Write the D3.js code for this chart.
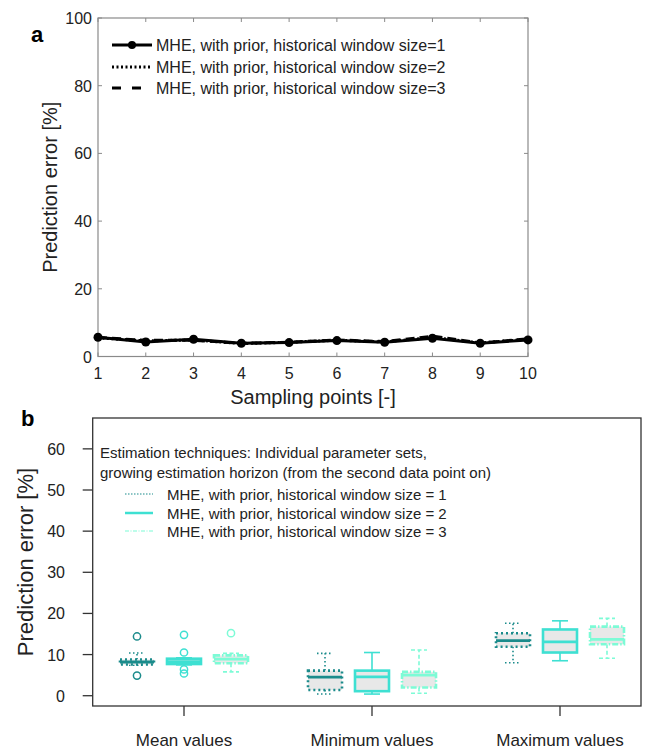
<!DOCTYPE html>
<html>
<head>
<meta charset="utf-8">
<script src="https://cdn.jsdelivr.net/npm/d3@7"></script>
<style>
  html, body { margin: 0; padding: 0; background: #fff; }
  svg { display: block; font-family: Arial, "Liberation Sans", sans-serif; }
</style>
</head>
<body>
<svg id="chart" width="646" height="751"></svg>
<script>
// ---------- Panel a: prediction error per sampling point ----------
const samplingPoints = [1, 2, 3, 4, 5, 6, 7, 8, 9, 10];
const errWindow1 = [5.7, 4.3, 5.1, 3.9, 4.1, 4.7, 4.2, 5.4, 3.9, 4.9];
const errWindow2 = [5.5, 4.6, 4.9, 3.8, 4.2, 4.8, 4.3, 5.6, 4.0, 5.1];
const errWindow3 = [5.6, 4.8, 4.8, 3.9, 4.2, 4.9, 4.4, 6.0, 4.0, 5.2];
const topLegend = [
  "MHE, with prior, historical window size=1",
  "MHE, with prior, historical window size=2",
  "MHE, with prior, historical window size=3"
];
const topYTicks = [0, 20, 40, 60, 80, 100];

// ---------- Panel b: box plots per statistic ----------
const groups = ["Mean values", "Minimum values", "Maximum values"];
const bottomLegend = [
  "MHE, with prior, historical window size = 1",
  "MHE, with prior, historical window size = 2",
  "MHE, with prior, historical window size = 3"
];
const legendTitle = [
  "Estimation techniques: Individual parameter sets,",
  "growing estimation horizon (from the second data point on)"
];
// indexed [group][window]
const whiskerLow  = [[7.4, 7.5, 5.8], [0.4, 0.4, 0.6], [8.0, 8.5, 9.1]];
const quart1      = [[7.6, 7.7, 7.9], [1.4, 1.1, 2.0], [11.9, 10.5, 12.5]];
const medians     = [[8.2, 8.3, 8.9], [4.5, 4.6, 5.0], [13.4, 13.1, 13.7]];
const quart3      = [[8.8, 9.0, 9.8], [6.1, 6.1, 5.8], [15.2, 16.1, 16.8]];
const whiskerHigh = [[10.4, 9.2, 10.3], [10.3, 10.5, 11.1], [17.6, 18.2, 18.8]];
const outliers    = [[[14.4, 4.9], [14.8, 10.5, 6.4, 5.4], [15.2]], [[], [], []], [[], [], []]];
const bottomYTicks = [0, 10, 20, 30, 40, 50, 60];

const svg = d3.select("#chart");
const textColor = "#222";

// ======== Panel a ========
const xA = d3.scaleLinear().domain([1, 10]).range([98, 528]);
const yA = d3.scaleLinear().domain([0, 100]).range([356.5, 18]);
const gA = svg.append("g");

// frame
gA.append("rect")
  .attr("x", xA(1)).attr("y", yA(100))
  .attr("width", xA(10) - xA(1)).attr("height", yA(0) - yA(100))
  .attr("fill", "none").attr("stroke", "#8a8a8a").attr("stroke-width", 1.2);

// inward ticks on all four sides
const tickLen = 4;
gA.append("g").selectAll("line").data(samplingPoints).join("line")
  .attr("x1", d => xA(d)).attr("x2", d => xA(d))
  .attr("y1", yA(0)).attr("y2", yA(0) - tickLen)
  .attr("stroke", "#8a8a8a");
gA.append("g").selectAll("line").data(samplingPoints).join("line")
  .attr("x1", d => xA(d)).attr("x2", d => xA(d))
  .attr("y1", yA(100)).attr("y2", yA(100) + tickLen)
  .attr("stroke", "#8a8a8a");
gA.append("g").selectAll("line").data(topYTicks).join("line")
  .attr("x1", xA(1)).attr("x2", xA(1) + tickLen)
  .attr("y1", d => yA(d)).attr("y2", d => yA(d))
  .attr("stroke", "#8a8a8a");
gA.append("g").selectAll("line").data(topYTicks).join("line")
  .attr("x1", xA(10)).attr("x2", xA(10) - tickLen)
  .attr("y1", d => yA(d)).attr("y2", d => yA(d))
  .attr("stroke", "#8a8a8a");

// tick labels
gA.append("g").selectAll("text").data(samplingPoints).join("text")
  .attr("x", d => xA(d)).attr("y", yA(0) + 22)
  .attr("text-anchor", "middle").attr("font-size", 16).attr("fill", textColor)
  .text(d => d);
gA.append("g").selectAll("text").data(topYTicks).join("text")
  .attr("x", xA(1) - 6).attr("y", d => yA(d) + 6)
  .attr("text-anchor", "end").attr("font-size", 16).attr("fill", textColor)
  .text(d => d);

// axis titles
gA.append("text")
  .attr("x", (xA(1) + xA(10)) / 2).attr("y", 404)
  .attr("text-anchor", "middle").attr("font-size", 20).attr("fill", textColor)
  .text("Sampling points [-]");
gA.append("text")
  .attr("transform", `translate(57,${(yA(0) + yA(100)) / 2}) rotate(-90)`)
  .attr("text-anchor", "middle").attr("font-size", 20).attr("fill", textColor)
  .text("Prediction error [%]");
svg.append("text").attr("x", 31).attr("y", 42)
  .attr("font-size", 22).attr("font-weight", "bold").attr("fill", "#000").text("a");

// series lines
const lineA = d3.line().x((d, i) => xA(samplingPoints[i])).y(d => yA(d));
const topStyles = [
  { data: errWindow1, dash: null },
  { data: errWindow2, dash: "2,2.5" },
  { data: errWindow3, dash: "9,5" }
];
topStyles.slice().reverse().forEach(s => {
  gA.append("path").datum(s.data)
    .attr("d", lineA).attr("fill", "none").attr("stroke", "#000")
    .attr("stroke-width", 3).attr("stroke-dasharray", s.dash);
});
gA.append("g").selectAll("circle").data(errWindow1).join("circle")
  .attr("cx", (d, i) => xA(samplingPoints[i])).attr("cy", d => yA(d))
  .attr("r", 4.5).attr("fill", "#000");

// legend
const legA = gA.append("g");
const legRowsA = [45, 67, 88];
const legDashA = [null, "2,2.5", "9,11"];
topLegend.forEach((t, i) => {
  legA.append("line")
    .attr("x1", 112).attr("x2", 152).attr("y1", legRowsA[i]).attr("y2", legRowsA[i])
    .attr("stroke", "#000").attr("stroke-width", 3)
    .attr("stroke-dasharray", legDashA[i]);
  if (i === 0) legA.append("circle").attr("cx", 132).attr("cy", legRowsA[i]).attr("r", 4).attr("fill", "#000");
  legA.append("text").attr("x", 156).attr("y", legRowsA[i] + 6)
    .attr("font-size", 16).attr("fill", textColor).text(t);
});

// ======== Panel b ========
const xB = d3.scalePoint().domain(groups).range([184, 560]);
const xOff = d3.scalePoint().domain([0, 1, 2]).range([-47, 47]);
const boxW = 34;
const yB = d3.scaleLinear().domain([-2.5, 67.5]).range([706, 418]);
const gB = svg.append("g");

const frameLeft = 92.7, frameRight = 641;
gB.append("rect")
  .attr("x", frameLeft).attr("y", yB(67.5))
  .attr("width", frameRight - frameLeft).attr("height", yB(-2.5) - yB(67.5))
  .attr("fill", "none").attr("stroke", "#333").attr("stroke-width", 1.3);

// y axis ticks (outward)
gB.append("g").selectAll("line").data(bottomYTicks).join("line")
  .attr("x1", frameLeft - 10).attr("x2", frameLeft)
  .attr("y1", d => yB(d)).attr("y2", d => yB(d))
  .attr("stroke", "#333").attr("stroke-width", 1.3);
gB.append("g").selectAll("text").data(bottomYTicks).join("text")
  .attr("x", 65).attr("y", d => yB(d) + 6)
  .attr("text-anchor", "end").attr("font-size", 16).attr("fill", textColor)
  .text(d => d);

// x axis ticks (outward) and category labels
gB.append("g").selectAll("line").data(groups).join("line")
  .attr("x1", d => xB(d)).attr("x2", d => xB(d))
  .attr("y1", yB(-2.5)).attr("y2", yB(-2.5) + 10)
  .attr("stroke", "#333").attr("stroke-width", 1.3);
gB.append("g").selectAll("text").data(groups).join("text")
  .attr("x", d => xB(d)).attr("y", 746)
  .attr("text-anchor", "middle").attr("font-size", 17).attr("fill", textColor)
  .text(d => d);

gB.append("text")
  .attr("transform", `translate(33,${(yB(-2.5) + yB(67.5)) / 2}) rotate(-90)`)
  .attr("text-anchor", "middle").attr("font-size", 22).attr("fill", textColor)
  .text("Prediction error [%]");
svg.append("text").attr("x", 21).attr("y", 426)
  .attr("font-size", 22).attr("font-weight", "bold").attr("fill", "#000").text("b");

// per-window styles
const winColors = ["#1b8b8b", "#3ee0d2", "#7dfbd6"];
const winDash = ["2,3", null, "6,2,1.5,2"];
const whiskDash = ["1.5,2.5", null, "4,2.5"];

groups.forEach((g, gi) => {
  [0, 1, 2].forEach(w => {
    const cx = xB(g) + xOff(w);
    const col = winColors[w];
    const bg = gB.append("g");
    // whiskers
    bg.append("line").attr("x1", cx).attr("x2", cx)
      .attr("y1", yB(quart3[gi][w])).attr("y2", yB(whiskerHigh[gi][w]))
      .attr("stroke", col).attr("stroke-width", 1.6).attr("stroke-dasharray", whiskDash[w]);
    bg.append("line").attr("x1", cx).attr("x2", cx)
      .attr("y1", yB(quart1[gi][w])).attr("y2", yB(whiskerLow[gi][w]))
      .attr("stroke", col).attr("stroke-width", 1.6).attr("stroke-dasharray", whiskDash[w]);
    [whiskerHigh[gi][w], whiskerLow[gi][w]].forEach(v => {
      bg.append("line").attr("x1", cx - 8).attr("x2", cx + 8)
        .attr("y1", yB(v)).attr("y2", yB(v))
        .attr("stroke", col).attr("stroke-width", 1.6).attr("stroke-dasharray", whiskDash[w]);
    });
    // box
    bg.append("rect")
      .attr("x", cx - boxW / 2).attr("y", yB(quart3[gi][w]))
      .attr("width", boxW).attr("height", yB(quart1[gi][w]) - yB(quart3[gi][w]))
      .attr("fill", "#e8e8e8").attr("stroke", col).attr("stroke-width", 2.6)
      .attr("stroke-dasharray", winDash[w]);
    // median
    bg.append("line").attr("x1", cx - boxW / 2).attr("x2", cx + boxW / 2)
      .attr("y1", yB(medians[gi][w])).attr("y2", yB(medians[gi][w]))
      .attr("stroke", col).attr("stroke-width", 2.8);
    // outliers
    bg.selectAll("circle").data(outliers[gi][w]).join("circle")
      .attr("cx", cx).attr("cy", d => yB(d)).attr("r", 3.6)
      .attr("fill", "none").attr("stroke", col).attr("stroke-width", 1.5);
  });
});

// legend
const legB = gB.append("g");
legendTitle.forEach((t, i) => {
  legB.append("text").attr("x", 100).attr("y", 458 + i * 19.5)
    .attr("font-size", 15).attr("fill", textColor).text(t);
});
const legRowsB = [494, 513, 531];
const legDashB = ["1.5,1.5", null, "4,1.5,1,1.5"];
const legWidthB = [1.2, 2.5, 1.2];
bottomLegend.forEach((t, i) => {
  legB.append("line").attr("x1", 125).attr("x2", 153)
    .attr("y1", legRowsB[i]).attr("y2", legRowsB[i])
    .attr("stroke", winColors[i]).attr("stroke-width", legWidthB[i])
    .attr("stroke-dasharray", legDashB[i]);
  legB.append("text").attr("x", 167).attr("y", legRowsB[i] + 5.5)
    .attr("font-size", 15).attr("fill", textColor).text(t);
});
</script>
</body>
</html>
